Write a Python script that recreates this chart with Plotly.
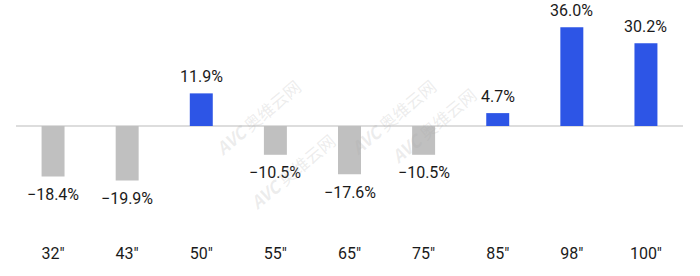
import plotly.graph_objects as go

categories = ['32"', '43"', '50"', '55"', '65"', '75"', '85"', '98"', '100"']
values = [-18.4, -19.9, 11.9, -10.5, -17.6, -10.5, 4.7, 36.0, 30.2]
labels = ["−18.4%", "−19.9%", "11.9%", "−10.5%", "−17.6%", "−10.5%", "4.7%", "36.0%", "30.2%"]

BLUE = "#2D55E6"
GRAY = "#C0C0C0"
colors = [BLUE if v > 0 else GRAY for v in values]

fig = go.Figure()
fig.add_trace(go.Bar(x=categories, y=values, marker=dict(color=colors, line=dict(width=0)),
                     width=0.31, hoverinfo="skip"))

for c, v, t in zip(categories, values, labels):
    fig.add_annotation(x=c, y=v, text=t, showarrow=False,
                       yshift=17 if v > 0 else -18,
                       font=dict(family="Roboto, Inter, sans-serif", size=16, color="#1a1a1a"))

# faint watermarks
wm = [(257, 117), (393, 70), (292, 218), (433, 172)]
for (px, py) in wm:
    fig.add_annotation(xref="paper", yref="paper",
                       x=(px - 16) / 667, y=1 - (py - 10) / 232,
                       text="<b><i>AVC</i></b> 奥维云网", showarrow=False, textangle=-40,
                       font=dict(family="Noto Sans CJK SC, sans-serif", size=17,
                                 color="rgba(170,170,170,0.22)"))

fig.update_layout(
    width=700, height=276,
    margin=dict(l=16, r=17, t=10, b=34),
    paper_bgcolor="white", plot_bgcolor="white",
    showlegend=False,
    xaxis=dict(showgrid=False, showline=False, ticks="",
               tickfont=dict(family="Roboto, Inter, sans-serif", size=16, color="#1a1a1a")),
    yaxis=dict(range=[-42.3, 42.3], showgrid=False, showticklabels=False,
               zeroline=True, zerolinecolor="#DDDDDD", zerolinewidth=1.5),
)

fig.write_html("out.html")
